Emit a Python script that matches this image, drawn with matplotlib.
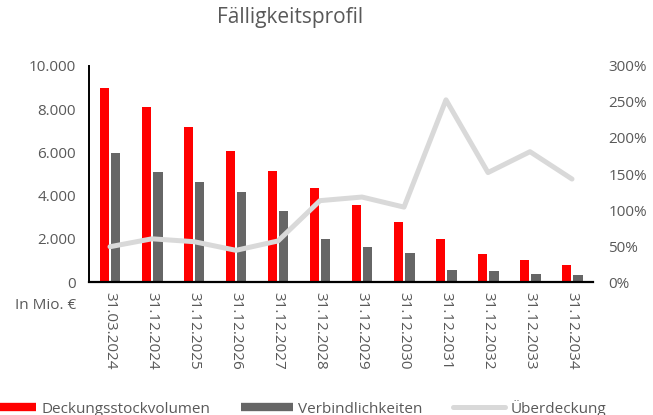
import numpy as np
import matplotlib
matplotlib.use("Agg")
import matplotlib.pyplot as plt
from matplotlib.lines import Line2D
from matplotlib.ticker import FuncFormatter

dates = ["31.03.2024", "31.12.2024", "31.12.2025", "31.12.2026", "31.12.2027",
         "31.12.2028", "31.12.2029", "31.12.2030", "31.12.2031", "31.12.2032",
         "31.12.2033", "31.12.2034"]
deckung = [8970, 8120, 7160, 6080, 5130, 4340, 3550, 2760, 1990, 1300, 1020, 770]
verbindl = [5960, 5080, 4610, 4180, 3270, 2010, 1600, 1340, 540, 490, 355, 310]
ueberdeckung = [49, 60, 56, 44, 57, 113, 118, 104, 253, 152, 181, 143]

RED = "#ff0000"
GRAY = "#666666"
LIGHT = "#d9d9d9"
TXT = "#595959"

plt.rcParams["font.family"] = ["Open Sans", "DejaVu Sans"]

fig = plt.figure(figsize=(6.53, 4.15), dpi=100)
ax = fig.add_axes([89/653, 1-282/415, (593-89)/653, (282-66)/415])
ax2 = ax.twinx()

x = np.arange(len(dates))
w = 0.22
ax.bar(x - 0.13, deckung, w, color=RED, zorder=2)
ax.bar(x + 0.14, verbindl, w, color=GRAY, zorder=2)
ax2.plot(x, ueberdeckung, color=LIGHT, lw=3.6, solid_joinstyle="round",
         solid_capstyle="round", zorder=3)

ax.set_xlim(-0.5, len(dates) - 0.5)
ax.set_ylim(0, 10000)
ax.set_yticks(np.arange(0, 10001, 2000))
ax.yaxis.set_major_formatter(FuncFormatter(lambda v, p: f"{int(v):,}".replace(",", ".")))
ax2.set_ylim(0, 300)
ax2.set_yticks(np.arange(0, 301, 50))
ax2.yaxis.set_major_formatter(FuncFormatter(lambda v, p: f"{int(v)}%"))

ax.set_xticks(x)
ax.set_xticklabels(dates, rotation=-90, fontsize=11, color=TXT)
ax.tick_params(axis="x", length=0, pad=7)
ax.tick_params(axis="y", length=0, labelsize=11, labelcolor=TXT, pad=9.5)
ax2.tick_params(axis="y", length=0, labelsize=11, labelcolor=TXT, pad=11)

for a in (ax, ax2):
    a.spines["top"].set_visible(False)
    a.spines["right"].set_visible(False)
ax2.spines["left"].set_visible(False)
ax2.spines["bottom"].set_visible(False)
ax.spines["left"].set_linewidth(1.4)
ax.spines["bottom"].set_linewidth(1.6)

fig.text(290/653, 1-18/415, "Fälligkeitsprofil", ha="center", va="center",
         fontsize=15, color=TXT)
fig.text(76/653, 1-305/415, "In Mio. €", ha="right", va="center",
         fontsize=11, color=TXT)

handles = [Line2D([], [], color=RED, lw=6, solid_capstyle="butt"),
           Line2D([], [], color=GRAY, lw=6, solid_capstyle="butt"),
           Line2D([], [], color=LIGHT, lw=3.6, solid_capstyle="round")]
labels = ["Deckungsstockvolumen", "Verbindlichkeiten", "Überdeckung"]
leg = fig.legend(handles, labels, loc="center left", bbox_to_anchor=(-16/653, 1-408/415),
                 ncol=3, frameon=False, fontsize=11, handlelength=3.4,
                 handletextpad=0.35, columnspacing=2.0, borderpad=0, borderaxespad=0)
for t in leg.get_texts():
    t.set_color(TXT)

fig.savefig("out.png", dpi=100)
